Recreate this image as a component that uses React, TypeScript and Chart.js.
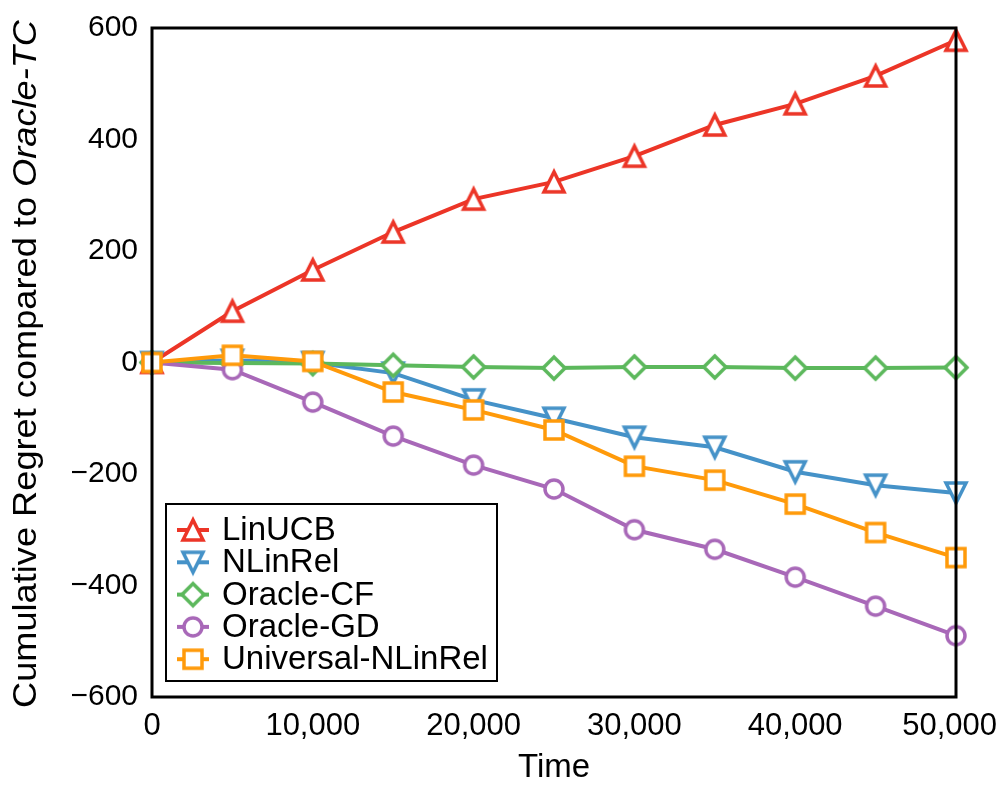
import React, { useEffect, useRef } from "react";
import { Chart, registerables } from "chart.js";

Chart.register(...registerables);

const times = [0, 5000, 10000, 15000, 20000, 25000, 30000, 35000, 40000, 45000, 50000];
const linUCB = [0, 92, 166, 234, 293, 324, 370, 426, 464, 514, 578];
const nLinRel = [0, 4, 0, -19, -67, -100, -134, -152, -196, -220, -234];
const oracleCF = [0, -1, -2, -5, -8, -10, -8, -8, -10, -10, -9];
const oracleGD = [0, -13, -71, -132, -184, -227, -300, -335, -385, -437, -490];
const universalNLinRel = [0, 13, 2, -53, -85, -121, -186, -211, -254, -305, -350];

const seriesNames = ["LinUCB", "NLinRel", "Oracle-CF", "Oracle-GD", "Universal-NLinRel"];
const seriesValues = [linUCB, nLinRel, oracleCF, oracleGD, universalNLinRel];
const seriesColors = ["#ec3527", "#4592c8", "#5cb85c", "#a868b8", "#ff9a0a"];
const seriesMarkers = ["triUp", "triDown", "diamond", "circle", "square"];

const xTicks = [0, 10000, 20000, 30000, 40000, 50000];
const yTicks = [-600, -400, -200, 0, 200, 400, 600];

const FONT = '"Liberation Sans", Arial, Helvetica, sans-serif';

function makeMarker(shape: string, color: string): HTMLCanvasElement {
  const c = document.createElement("canvas");
  c.width = 36;
  c.height = 36;
  const ctx = c.getContext("2d")!;
  ctx.translate(18, 18);
  ctx.lineWidth = 3.5;
  ctx.lineJoin = "miter";
  ctx.strokeStyle = color;
  ctx.fillStyle = "#ffffff";
  ctx.beginPath();
  if (shape === "triUp") {
    const h = 10;
    ctx.moveTo(0, -h);
    ctx.lineTo(-h, h);
    ctx.lineTo(h, h);
    ctx.closePath();
  } else if (shape === "triDown") {
    const h = 10;
    ctx.moveTo(0, h);
    ctx.lineTo(-h, -h);
    ctx.lineTo(h, -h);
    ctx.closePath();
  } else if (shape === "diamond") {
    const h = 11;
    ctx.moveTo(0, -h);
    ctx.lineTo(h, 0);
    ctx.lineTo(0, h);
    ctx.lineTo(-h, 0);
    ctx.closePath();
  } else if (shape === "circle") {
    ctx.arc(0, 0, 9, 0, Math.PI * 2);
  } else {
    ctx.rect(-9, -9, 18, 18);
  }
  ctx.fill();
  ctx.stroke();
  return c;
}

export default function App() {
  const ref = useRef<HTMLCanvasElement | null>(null);

  useEffect(() => {
    document.body.style.margin = "0";
    const markers = seriesMarkers.map((m, i) => makeMarker(m, seriesColors[i]));

    const overlay = {
      id: "overlay",
      afterDraw(chart: any) {
        const ctx = chart.ctx as CanvasRenderingContext2D;
        const ca = chart.chartArea;
        ctx.save();
        // axes box
        ctx.strokeStyle = "#000";
        ctx.lineWidth = 3;
        ctx.strokeRect(ca.left, ca.top, ca.right - ca.left, ca.bottom - ca.top);

        // x tick labels (kept inside the canvas like the reference)
        const xs = chart.scales.x;
        ctx.fillStyle = "#000";
        ctx.font = `31px ${FONT}`;
        ctx.textAlign = "left";
        ctx.textBaseline = "alphabetic";
        xTicks.forEach((v) => {
          const label = v.toLocaleString("en-US");
          const w = ctx.measureText(label).width;
          let x = xs.getPixelForValue(v) - w / 2;
          if (x + w > chart.width - 3) x = chart.width - 3 - w;
          ctx.fillText(label, x, ca.bottom + 38);
        });

        // x title
        ctx.font = `33px ${FONT}`;
        ctx.textAlign = "center";
        ctx.fillText("Time", (ca.left + ca.right) / 2, 777);

        // y title with italic part
        const part1 = "Cumulative Regret compared to ";
        const part2 = "Oracle-TC";
        ctx.font = `33px ${FONT}`;
        const w1 = ctx.measureText(part1).width;
        ctx.font = `italic 33px ${FONT}`;
        const w2 = ctx.measureText(part2).width;
        const total = w1 + w2;
        const k = 688 / total;
        ctx.save();
        ctx.translate(36, 364);
        ctx.rotate(-Math.PI / 2);
        ctx.scale(k, 1);
        ctx.textAlign = "left";
        ctx.font = `33px ${FONT}`;
        ctx.fillText(part1, -total / 2, 0);
        ctx.font = `italic 33px ${FONT}`;
        ctx.fillText(part2, -total / 2 + w1, 0);
        ctx.restore();

        // legend
        const lx = ca.left + 14;
        const ly = ca.bottom - 193;
        const lw = 331;
        const lh = 177;
        ctx.fillStyle = "#fff";
        ctx.fillRect(lx, ly, lw, lh);
        ctx.strokeStyle = "#000";
        ctx.lineWidth = 2;
        ctx.strokeRect(lx, ly, lw, lh);
        ctx.font = `33px ${FONT}`;
        ctx.textAlign = "left";
        ctx.textBaseline = "middle";
        for (let i = 0; i < seriesNames.length; i++) {
          const cy = ly + 26 + i * 32.3;
          ctx.strokeStyle = seriesColors[i];
          ctx.lineWidth = 4;
          ctx.beginPath();
          ctx.moveTo(lx + 11, cy);
          ctx.lineTo(lx + 43, cy);
          ctx.stroke();
          const m = markers[i];
          ctx.drawImage(m, lx + 27 - m.width / 2, cy - m.height / 2);
          ctx.fillStyle = "#000";
          ctx.fillText(seriesNames[i], lx + 56, cy + 1);
        }
        ctx.restore();
      },
    };

    const chart = new Chart(ref.current!, {
      type: "line",
      data: {
        datasets: seriesNames.map((name, i) => ({
          label: name,
          data: times.map((t, j) => ({ x: t, y: seriesValues[i][j] })),
          borderColor: seriesColors[i],
          backgroundColor: "#fff",
          borderWidth: 4,
          pointStyle: markers[i] as any,
          pointRadius: 10,
          pointHoverRadius: 10,
          tension: 0,
          clip: false as any,
          order: seriesNames.length - i,
        })),
      },
      options: {
        responsive: false,
        animation: false,
        layout: { padding: { top: 28, right: 44, left: 0, bottom: 0 } },
        plugins: {
          legend: { display: false },
          tooltip: { enabled: false },
        },
        scales: {
          x: {
            type: "linear",
            min: 0,
            max: 50000,
            afterBuildTicks: (s: any) => {
              s.ticks = xTicks.map((v) => ({ value: v }));
            },
            afterFit: (s: any) => {
              s.height = 103;
              s.paddingLeft = 0;
              s.paddingRight = 0;
              s.paddingTop = 0;
              s.paddingBottom = 0;
            },
            ticks: {
              display: false,
              font: { family: FONT, size: 31 },
              color: "#000",
              padding: 6,
              maxRotation: 0,
              autoSkip: false,
            },
            grid: { display: false, drawTicks: false },
            border: { display: false },
          },
          y: {
            type: "linear",
            min: -600,
            max: 600,
            afterBuildTicks: (s: any) => {
              s.ticks = yTicks.map((v) => ({ value: v }));
            },
            afterFit: (s: any) => {
              s.width = 152;
              s.paddingLeft = 0;
              s.paddingRight = 0;
              s.paddingTop = 0;
              s.paddingBottom = 0;
            },
            ticks: {
              font: { family: FONT, size: 30 },
              color: "#000",
              padding: 14,
              autoSkip: false,
              callback: (v: any) => (Number(v) < 0 ? "\u2212" + Math.abs(Number(v)) : String(v)),
            },
            grid: { display: false, drawTicks: false },
            border: { display: false },
          },
        },
      },
      plugins: [overlay],
    });
    return () => chart.destroy();
  }, []);

  return (
    <div style={{ width: 1000, height: 800, position: "relative" }}>
      <canvas ref={ref} width={1000} height={800} style={{ display: "block" }} />
    </div>
  );
}
